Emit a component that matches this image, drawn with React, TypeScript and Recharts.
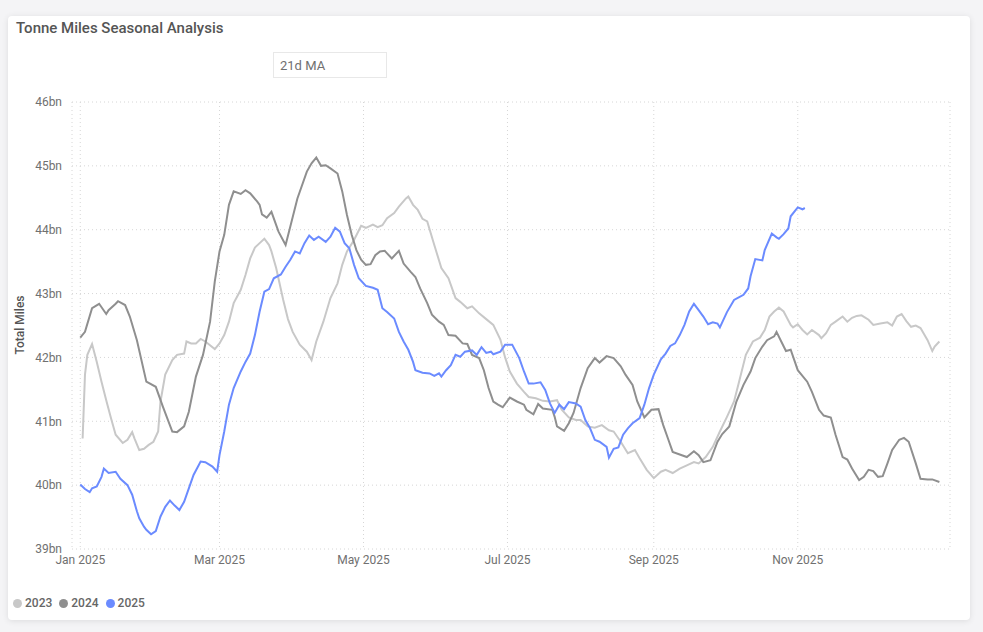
import React from 'react';
import { LineChart, Line, XAxis, YAxis, CartesianGrid } from 'recharts';

// ---- Data (day of year, value in bn tonne miles) ----
const days2023 = [1, 2, 3, 5, 7, 9, 11, 13, 15, 18, 20, 22, 23, 25, 27, 29, 31, 33, 34, 36, 39, 41, 44, 45, 47, 49, 51, 53, 57, 59, 61, 63, 65, 68, 70, 72, 74, 76, 78, 80, 81, 83, 86, 88, 90, 93, 96, 98, 100, 103, 106, 109, 111, 113, 116, 119, 121, 124, 126, 128, 130, 133, 135, 138, 139, 141, 143, 145, 147, 150, 153, 156, 159, 161, 164, 166, 169, 172, 175, 178, 180, 182, 185, 188, 190, 193, 196, 199, 202, 204, 207, 210, 212, 215, 218, 221, 224, 226, 229, 232, 235, 237, 240, 243, 246, 248, 251, 254, 257, 260, 262, 265, 268, 271, 274, 277, 279, 282, 285, 288, 290, 292, 294, 296, 298, 301, 302, 304, 306, 308, 310, 313, 314, 316, 318, 320, 323, 325, 327, 329, 331, 334, 336, 339, 342, 344, 346, 348, 350, 352, 354, 356, 359, 361, 362, 364];
const values2023 = [40.73, 41.73, 42.04, 42.21, 41.93, 41.62, 41.33, 41.05, 40.79, 40.66, 40.71, 40.83, 40.73, 40.55, 40.57, 40.63, 40.68, 40.84, 41.31, 41.73, 41.96, 42.04, 42.06, 42.25, 42.22, 42.22, 42.29, 42.25, 42.13, 42.22, 42.35, 42.56, 42.85, 43.06, 43.29, 43.55, 43.72, 43.79, 43.86, 43.76, 43.66, 43.4, 42.9, 42.6, 42.4, 42.2, 42.09, 41.96, 42.25, 42.56, 42.93, 43.16, 43.45, 43.66, 43.84, 44.06, 44.03, 44.08, 44.04, 44.07, 44.18, 44.26, 44.36, 44.49, 44.52, 44.39, 44.31, 44.17, 44.13, 43.76, 43.4, 43.24, 42.93, 42.87, 42.77, 42.8, 42.69, 42.6, 42.51, 42.28, 42.0, 41.78, 41.59, 41.46, 41.38, 41.36, 41.32, 41.31, 41.33, 41.18, 41.06, 41.02, 41.02, 40.92, 40.9, 40.94, 40.86, 40.84, 40.68, 40.5, 40.55, 40.42, 40.24, 40.11, 40.21, 40.24, 40.19, 40.26, 40.31, 40.36, 40.34, 40.44, 40.6, 40.84, 41.07, 41.31, 41.6, 42.04, 42.25, 42.31, 42.43, 42.64, 42.72, 42.78, 42.72, 42.51, 42.47, 42.52, 42.43, 42.36, 42.43, 42.35, 42.3, 42.38, 42.51, 42.56, 42.64, 42.56, 42.62, 42.65, 42.66, 42.59, 42.51, 42.53, 42.55, 42.5, 42.64, 42.68, 42.57, 42.48, 42.5, 42.46, 42.27, 42.1, 42.17, 42.25];

const days2024 = [0, 2, 5, 8, 11, 12, 15, 16, 19, 21, 24, 28, 32, 35, 39, 41, 44, 46, 49, 52, 55, 57, 59, 61, 63, 65, 68, 70, 72, 75, 76, 77, 79, 81, 84, 87, 89, 92, 96, 98, 100, 102, 104, 106, 109, 111, 113, 115, 117, 119, 121, 123, 125, 127, 129, 130, 132, 135, 137, 140, 142, 144, 147, 149, 152, 154, 156, 159, 162, 164, 166, 169, 171, 173, 175, 177, 179, 182, 185, 188, 189, 192, 194, 196, 200, 201, 202, 205, 207, 209, 212, 215, 218, 220, 223, 226, 229, 231, 234, 236, 239, 242, 245, 247, 249, 251, 254, 257, 260, 262, 264, 267, 270, 272, 275, 278, 281, 284, 286, 289, 291, 294, 295, 297, 299, 301, 304, 308, 310, 313, 315, 318, 320, 323, 325, 327, 330, 332, 334, 336, 338, 340, 342, 344, 347, 349, 351, 354, 356, 359, 361, 364];
const values2024 = [42.31, 42.4, 42.77, 42.84, 42.68, 42.74, 42.84, 42.88, 42.82, 42.64, 42.27, 41.62, 41.54, 41.23, 40.84, 40.83, 40.92, 41.15, 41.7, 42.04, 42.56, 43.19, 43.66, 43.92, 44.39, 44.6, 44.56, 44.62, 44.57, 44.44, 44.39, 44.24, 44.19, 44.28, 43.97, 43.76, 44.05, 44.49, 44.91, 45.04, 45.13, 45.0, 45.01, 44.96, 44.88, 44.6, 44.23, 43.92, 43.68, 43.53, 43.45, 43.46, 43.6, 43.66, 43.67, 43.63, 43.55, 43.67, 43.47, 43.34, 43.26, 43.08, 42.85, 42.67, 42.56, 42.51, 42.35, 42.34, 42.22, 42.21, 42.04, 41.99, 41.8, 41.52, 41.31, 41.26, 41.22, 41.37, 41.31, 41.26, 41.18, 41.11, 41.27, 41.2, 41.18, 41.07, 40.92, 40.85, 40.97, 41.13, 41.52, 41.83, 41.99, 41.92, 42.02, 41.99, 41.86, 41.73, 41.57, 41.31, 41.06, 41.18, 41.19, 40.94, 40.73, 40.52, 40.48, 40.44, 40.53, 40.47, 40.36, 40.39, 40.68, 40.8, 40.92, 41.31, 41.57, 41.78, 41.99, 42.17, 42.27, 42.33, 42.4, 42.25, 42.1, 42.12, 41.8, 41.62, 41.46, 41.18, 41.09, 41.06, 40.79, 40.44, 40.4, 40.26, 40.08, 40.13, 40.24, 40.22, 40.13, 40.14, 40.34, 40.55, 40.71, 40.74, 40.68, 40.34, 40.1, 40.09, 40.09, 40.05];

const days2025 = [0, 2, 4, 5, 7, 9, 10, 12, 15, 17, 20, 22, 24, 25, 27, 28, 30, 32, 34, 36, 38, 40, 42, 44, 46, 48, 51, 53, 56, 58, 59, 61, 63, 65, 68, 70, 72, 74, 76, 78, 80, 82, 85, 87, 89, 91, 93, 95, 97, 99, 101, 104, 106, 108, 110, 112, 114, 116, 118, 121, 124, 126, 128, 130, 133, 135, 137, 139, 141, 142, 145, 148, 150, 152, 153, 155, 157, 159, 161, 163, 166, 168, 170, 172, 174, 175, 178, 180, 183, 186, 188, 190, 192, 195, 197, 199, 201, 203, 205, 207, 210, 212, 214, 216, 218, 220, 223, 224, 226, 228, 230, 232, 234, 237, 239, 241, 243, 246, 248, 250, 252, 254, 256, 258, 260, 262, 264, 266, 268, 270, 271, 274, 277, 279, 281, 283, 284, 286, 289, 290, 293, 295, 296, 298, 300, 301, 304, 306, 307];
const values2025 = [40.01, 39.94, 39.89, 39.95, 39.98, 40.13, 40.26, 40.19, 40.21, 40.1, 40.0, 39.85, 39.59, 39.48, 39.35, 39.3, 39.23, 39.28, 39.51, 39.66, 39.76, 39.68, 39.61, 39.74, 39.95, 40.16, 40.37, 40.36, 40.29, 40.21, 40.47, 40.84, 41.26, 41.52, 41.78, 41.93, 42.06, 42.35, 42.72, 43.03, 43.07, 43.24, 43.3, 43.42, 43.53, 43.66, 43.63, 43.79, 43.91, 43.84, 43.89, 43.81, 43.89, 44.03, 43.97, 43.79, 43.71, 43.45, 43.24, 43.12, 43.09, 43.06, 42.77, 42.71, 42.61, 42.4, 42.25, 42.12, 41.93, 41.8, 41.76, 41.75, 41.71, 41.75, 41.7, 41.8, 41.88, 42.04, 42.01, 42.09, 42.11, 42.04, 42.16, 42.07, 42.09, 42.05, 42.09, 42.2, 42.2, 41.99, 41.78, 41.59, 41.59, 41.61, 41.49, 41.28, 41.13, 41.26, 41.19, 41.3, 41.28, 41.23, 41.02, 40.89, 40.71, 40.68, 40.6, 40.43, 40.57, 40.59, 40.79, 40.89, 40.97, 41.05, 41.26, 41.52, 41.73, 41.97, 42.06, 42.18, 42.22, 42.35, 42.51, 42.72, 42.84, 42.74, 42.64, 42.52, 42.55, 42.53, 42.47, 42.71, 42.9, 42.94, 42.98, 43.08, 43.27, 43.54, 43.52, 43.68, 43.94, 43.88, 43.86, 43.93, 44.02, 44.21, 44.35, 44.32, 44.34];

const xTickDays = [0, 59, 120, 181, 243, 304];
const xTickLabels = ['Jan 2025', 'Mar 2025', 'May 2025', 'Jul 2025', 'Sep 2025', 'Nov 2025'];
const yTicks = [39, 40, 41, 42, 43, 44, 45, 46];

const seriesNames = ['2023', '2024', '2025'];
const seriesColors = ['#c8c8c8', '#8f8f8f', '#6b8bff'];

const toPoints = (d: number[], v: number[]) => d.map((day, i) => ({ day, value: v[i] }));
const seriesData = [
  toPoints(days2023, values2023),
  toPoints(days2024, values2024),
  toPoints(days2025, values2025),
];

const FONT = 'Roboto, "Noto Sans", sans-serif';

export default function App() {
  return (
    <div style={{ position: 'absolute', left: 0, top: 0, width: 983, height: 632, background: '#f4f4f6', overflow: 'hidden', fontFamily: FONT }}>
      <div style={{ position: 'absolute', left: 8, top: 16, width: 962, height: 604, background: '#ffffff', borderRadius: 4, boxShadow: '0 1px 6px rgba(0,0,0,0.10)' }} />
      <div style={{ position: 'absolute', left: 16, top: 19, fontSize: 15, fontWeight: 500, color: '#555555', whiteSpace: 'nowrap' }}>
        Tonne Miles Seasonal Analysis
      </div>
      <div style={{ position: 'absolute', left: 273, top: 52, width: 112, height: 24, border: '1px solid #e8e8e8', boxSizing: 'content-box' }}>
        <span style={{ position: 'absolute', left: 6, top: 5, fontSize: 13, color: '#707070' }}>21d MA</span>
      </div>
      <div style={{ position: 'absolute', left: 20, top: 325, transform: 'translate(-50%, -50%) rotate(-90deg)', fontSize: 12, fontWeight: 500, color: '#555555', whiteSpace: 'nowrap' }}>
        Total Miles
      </div>
      <div style={{ position: 'absolute', left: 0, top: 0 }}>
        <LineChart width={983} height={632} margin={{ top: 102, right: 33, bottom: 53, left: 22 }}>
          <CartesianGrid stroke="#d6d6d6" strokeDasharray="1 3" vertical={true} horizontal={true} />
          <XAxis
            dataKey="day"
            type="number"
            domain={[-3.5, 368.5]}
            ticks={xTickDays}
            tickFormatter={(v: number) => xTickLabels[xTickDays.indexOf(v)] ?? ''}
            axisLine={false}
            tickLine={false}
            height={30}
            tick={{ fontSize: 12, fill: '#707070', fontFamily: FONT }}
            tickMargin={0}
            allowDuplicatedCategory={false}
          />
          <YAxis
            type="number"
            domain={[39, 46]}
            ticks={yTicks}
            tickFormatter={(v: number) => `${v}bn`}
            axisLine={false}
            tickLine={false}
            width={50}
            tickMargin={4}
            tick={{ fontSize: 12, fill: '#707070', fontFamily: FONT }}
          />
          {seriesData.map((data, i) => (
            <Line
              key={seriesNames[i]}
              data={data}
              dataKey="value"
              name={seriesNames[i]}
              type="linear"
              stroke={seriesColors[i]}
              strokeWidth={2}
              dot={false}
              activeDot={false}
              isAnimationActive={false}
            />
          ))}
        </LineChart>
      </div>
      <div style={{ position: 'absolute', left: 13, top: 596, display: 'flex', alignItems: 'center', fontSize: 12, fontWeight: 500, color: '#666666' }}>
        {seriesNames.map((n, i) => (
          <div key={n} style={{ display: 'flex', alignItems: 'center', marginRight: 7 }}>
            <span style={{ width: 9, height: 9, borderRadius: '50%', background: seriesColors[i], display: 'inline-block', marginRight: 3 }} />
            <span>{n}</span>
          </div>
        ))}
      </div>
    </div>
  );
}
